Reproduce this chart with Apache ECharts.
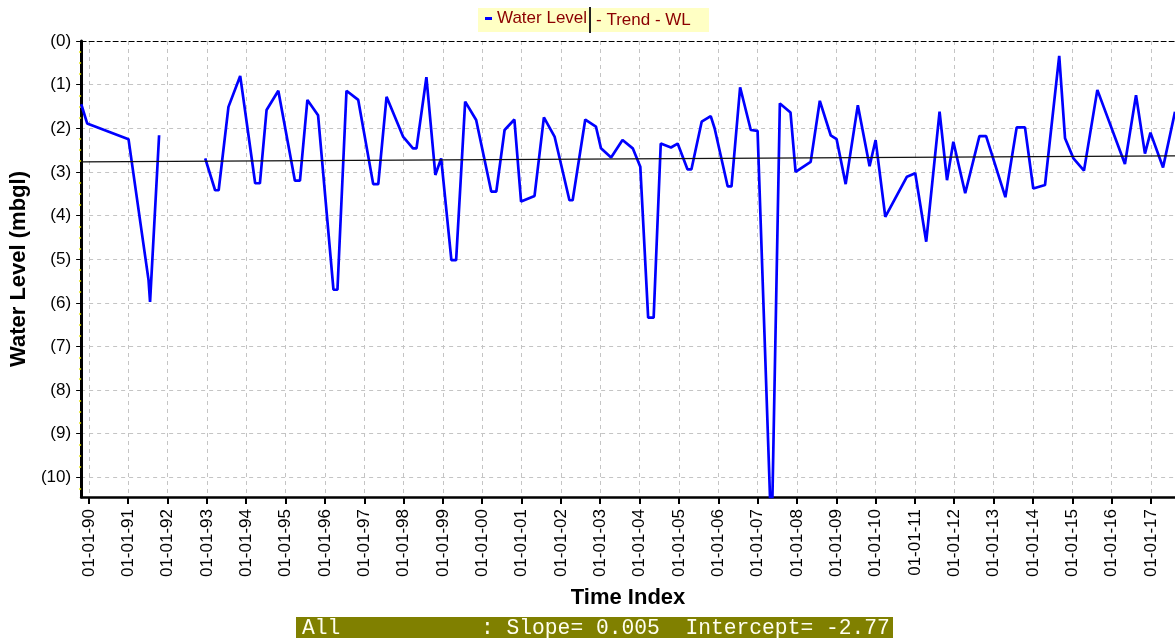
<!DOCTYPE html>
<html><head><meta charset="utf-8">
<script src="https://cdn.jsdelivr.net/npm/echarts@6/dist/echarts.min.js"></script>
<style>html,body{margin:0;padding:0;background:#fff}#c{width:1175px;height:638px}</style>
</head><body><div id="c"></div>
<script>
// Sample dates and water level depths (metres below ground level; shown as (n))
const dates = ['1989-10-22','1989-12-16','1991-01-04','1991-07-09','1991-07-23','1991-10-15','1992-05-15',
'1992-12-16','1993-03-18','1993-04-20','1993-07-20','1993-11-06','1994-03-25','1994-05-08','1994-07-09','1994-10-26',
'1995-03-29','1995-05-15','1995-07-23','1995-10-30','1996-03-21','1996-04-27','1996-07-20','1996-11-06',
'1997-03-25','1997-05-11','1997-07-27','1997-12-27','1998-03-29','1998-05-01','1998-08-01','1998-10-23','1998-12-16',
'1999-03-21','1999-05-04','1999-07-27','1999-11-06','2000-03-25','2000-05-11','2000-07-27','2000-10-26','2000-12-27',
'2001-05-01','2001-07-27','2001-11-03','2002-03-21','2002-04-20','2002-08-15','2002-11-22','2003-01-08','2003-04-12',
'2003-07-27','2003-10-30','2004-01-08','2004-03-21','2004-05-11','2004-07-16','2004-10-19','2004-12-20','2005-03-21',
'2005-04-27','2005-07-31','2005-10-23','2005-11-28','2006-03-29','2006-05-04','2006-07-23','2006-10-30','2007-01-01',
'2007-05-11','2007-07-27','2007-11-03','2007-12-20','2008-05-08','2008-08-01','2008-11-10','2009-01-04','2009-03-29',
'2009-07-20','2009-11-06','2010-01-01','2010-04-01','2010-10-19','2011-01-04','2011-04-16','2011-08-18','2011-10-26',
'2011-12-24','2012-04-12','2012-08-22','2012-10-23','2013-04-20','2013-08-03','2013-10-19','2014-01-04','2014-04-23',
'2014-09-02','2014-10-26','2015-01-12','2015-04-20','2015-08-22','2016-05-04','2016-08-15','2016-11-06','2016-12-27',
'2017-04-23','2017-08-12'];
const waterLevel = [1.45,1.89,2.25,5.48,5.98,2.16,null,
2.69,3.42,3.42,1.51,0.80,3.26,3.26,1.58,1.14,
3.20,3.20,1.35,1.70,5.70,5.70,1.14,1.35,
3.28,3.28,1.28,2.19,2.46,2.46,0.83,3.07,2.69,
5.02,5.02,1.39,1.81,3.45,3.45,2.04,1.80,3.68,
3.55,1.75,2.19,3.65,3.65,1.80,1.96,2.46,2.67,
2.27,2.46,2.88,6.34,6.34,2.35,2.44,2.35,2.94,
2.94,1.85,1.72,2.00,3.33,3.33,1.06,2.04,2.06,
11.5,1.43,1.64,3.00,2.77,1.37,2.16,2.25,3.28,
1.47,2.87,2.27,4.03,3.11,3.03,4.60,1.62,3.19,
2.31,3.49,2.18,2.18,3.58,1.98,1.98,3.38,3.30,
0.34,2.23,2.69,2.97,1.12,2.82,1.24,2.58,2.10,
2.90,1.62];
const yearTicks = [1990,1991,1992,1993,1994,1995,1996,1997,1998,1999,2000,2001,2002,2003,2004,2005,2006,2007,2008,2009,2010,2011,2012,2013,2014,2015,2016,2017];
const depthTicks = [0,1,2,3,4,5,6,7,8,9,10];
const trendSlope = 0.005;      // per year
const trendIntercept = -2.77;  // at first sample
const axisStart = '1989-10-21';
const axisEnd = '2017-08-12';
const depthMax = 10.45;

const ts = d => Date.parse(d);
const wlData = dates.map((d, i) => [ts(d), waterLevel[i] == null ? '-' : waterLevel[i]]);
const t0 = ts(dates[0]), t1 = ts(dates[dates.length - 1]);
const yrs = t => (t - t0) / (365.25 * 864e5);
const trendData = [t0, t1].map(t => [t, -(trendIntercept + trendSlope * yrs(t))]);
const yearTs = yearTicks.map(y => Date.UTC(y, 0, 1));
const fmtDate = v => { const d = new Date(v); return '01-01-' + String(d.getUTCFullYear() % 100).padStart(2, '0'); };

const barText = 'All' + ' '.repeat(11) + ': Slope= ' + trendSlope.toFixed(3) + '  Intercept= ' + trendIntercept.toFixed(2);

const chart = echarts.init(document.getElementById('c'), null, {renderer: 'canvas'});
const font = 'Liberation Sans, Arial, sans-serif';
chart.setOption({
  animation: false,
  backgroundColor: '#fff',
  textStyle: {fontFamily: font},
  grid: {left: 79, right: 0, top: 41, bottom: 141, containLabel: false},
  graphic: [
    {type: 'rect', z: 0, shape: {x: 478, y: 8, width: 231, height: 24}, style: {fill: '#ffffc4'}},
    {type: 'rect', z: 0, shape: {x: 296, y: 617, width: 597, height: 25}, style: {fill: '#808000'}},
    {type: 'text', z: 1, x: 302, y: 628, style: {text: barText, font: '21.3px "Liberation Mono", "Courier New", monospace', fill: '#fffff0', verticalAlign: 'middle'}}
  ],
  legend: [
    {data: [{name: 'Water Level', icon: 'rect'}], left: 485, top: 10, padding: 0, itemWidth: 7, itemHeight: 3, z: 10,
     textStyle: {color: '#8b0000', fontSize: 17, fontFamily: font}},
    {data: [{name: '- Trend - WL', icon: 'rect'}], left: 589, top: 7, padding: 0, itemWidth: 2, itemHeight: 26, z: 10,
     textStyle: {color: '#8b0000', fontSize: 17, fontFamily: font}}
  ],
  xAxis: [{
    type: 'value', min: ts(axisStart), max: ts(axisEnd), position: 'bottom',
    name: 'Time Index', nameLocation: 'middle', nameGap: 90,
    nameTextStyle: {fontSize: 22, fontWeight: 'bold', color: '#000', fontFamily: font},
    axisLine: {onZero: false, lineStyle: {color: '#000', width: 2.5}},
    axisTick: {customValues: yearTs, length: 7, lineStyle: {color: '#000', width: 2}},
    axisLabel: {customValues: yearTs, rotate: 90, margin: 12, fontSize: 17, color: '#000', fontFamily: font, formatter: fmtDate},
    splitLine: {show: true, lineStyle: {color: '#c4c4c4', type: [4, 4], width: 1}}
  }, {
    type: 'value', position: 'top', min: ts(axisStart), max: ts(axisEnd),
    axisLine: {show: true, onZero: false, lineStyle: {color: '#000', type: [5, 3], width: 1}},
    axisTick: {show: false}, axisLabel: {show: false}, splitLine: {show: false}
  }],
  yAxis: {
    type: 'value', inverse: true, min: 0, max: depthMax, interval: 1,
    name: 'Water Level (mbgl)', nameLocation: 'middle', nameGap: 49,
    nameTextStyle: {fontSize: 22, fontWeight: 'bold', color: '#000', fontFamily: font},
    axisLine: {show: true, onZero: false, lineStyle: {color: '#000', width: 3}},
    axisTick: {customValues: depthTicks, length: 5, lineStyle: {color: '#000', width: 1}},
    minorTick: {show: true, splitNumber: 4, length: 2, lineStyle: {color: '#e0e000', width: 1.5}},
    axisLabel: {customValues: depthTicks, margin: 10, fontSize: 17, color: '#000', fontFamily: font,
      formatter: v => '(' + v + ')'},
    splitLine: {show: true, lineStyle: {color: '#c4c4c4', type: [4, 4], width: 1}}
  },
  series: [
    {name: 'Water Level', type: 'line', data: wlData, showSymbol: false, symbol: 'none', connectNulls: false,
     color: '#0000ff', lineStyle: {color: '#0000ff', width: 2.7}, z: 3},
    {name: '- Trend - WL', type: 'line', data: trendData, showSymbol: false, symbol: 'none',
     color: '#222', lineStyle: {color: '#111', width: 1.3}, z: 4}
  ]
});
</script></body></html>
